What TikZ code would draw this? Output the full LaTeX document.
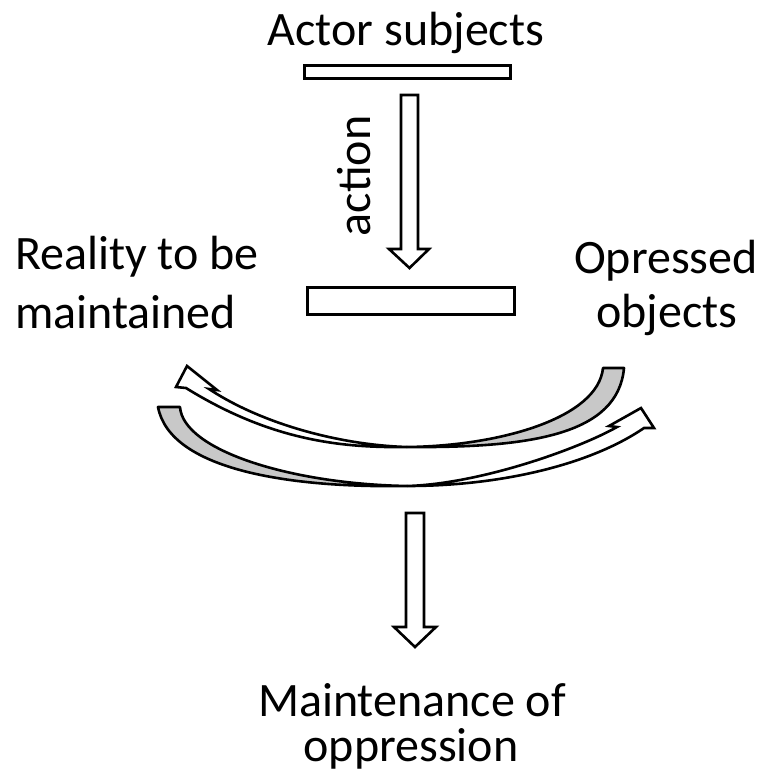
\documentclass[tikz,border=0pt]{standalone}
\usepackage{fontspec}
\setmainfont{Carlito}
\definecolor{shadegray}{RGB}{200,200,200}
\begin{document}
\begin{tikzpicture}[x=1pt,y=-1pt,
  lbl/.style={font=\fontsize{48}{58}\selectfont, inner sep=0pt},
  outl/.style={draw=black, line width=2.6pt, fill=white, line join=miter},
  shade/.style={draw=black, line width=2.6pt, fill=shadegray, line join=round}]
\useasboundingbox (0,0) rectangle (765,780);

% texts
\node[lbl, anchor=base] (actor) at (406,45) {Actor subjects};
\node[lbl, anchor=base west] (real1) at (15,269) {Reality to be};
\node[lbl, anchor=base west] (real2) at (15,328) {maintained};
\node[lbl, anchor=base] (opp1) at (666,273) {Opressed};
\node[lbl, anchor=base] (opp2) at (667,327) {objects};
\node[lbl, anchor=base, rotate=90] (action) at (370,176) {action};
\node[lbl, anchor=base, text depth=0pt] (maint1) at (412,716) {Maintenance of};
\node[lbl, anchor=base, text height=30pt] (maint2) at (411,761) {oppression};

% bars
\node[outl, anchor=north west, minimum width=206pt, minimum height=13pt, inner sep=0pt] (bar1) at (303,64) {};
\node[outl, anchor=north west, minimum width=207pt, minimum height=27pt, inner sep=0pt] (bar2) at (306,286) {};

% straight block arrows
\draw[outl] (401,95) -- (418,95) -- (418,249) -- (429,249) -- (409.5,268) -- (389,249) -- (401,249) -- cycle;
\draw[outl] (406,513) -- (424,513) -- (424,627) -- (436,627) -- (415,647) -- (394,627) -- (406,627) -- cycle;

% upper curved arrow (points up-left)
\draw[shade] (407,447) .. controls (530,448) and (618,435) .. (624,368)
   -- (603,368) .. controls (598,418) and (500,446) .. (407,447) -- cycle;
\draw[outl] (186,388) .. controls (270,440) and (340,448) .. (407,447)
   .. controls (340,445) and (262,424) .. (209,389)
   -- (217,390) -- (187,366) -- (176,387) -- cycle;

% lower curved arrow (points up-right)
\draw[shade] (158,407) .. controls (170,470) and (290,488) .. (407,486)
   .. controls (290,484) and (183,450) .. (180,407) -- cycle;
\draw[outl] (407,486) .. controls (500,486) and (590,465) .. (644,428)
   -- (654,428) -- (641,408) -- (609,426) -- (617,427)
   .. controls (578,449) and (480,484) .. (407,486) -- cycle;
\end{tikzpicture}
\end{document}
